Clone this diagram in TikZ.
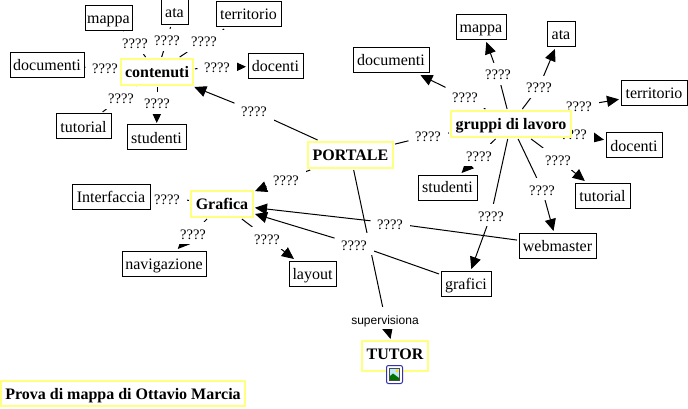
\documentclass[tikz,border=0pt]{standalone}
\usepackage{fontspec}
\setmainfont{Liberation Serif}
\newfontfamily\lblsans{Liberation Sans}
\usetikzlibrary{arrows.meta}
\definecolor{concepty}{HTML}{FFFF80}
\pgfdeclarelayer{edgelayer}
\pgfdeclarelayer{labellayer}
\pgfsetlayers{edgelayer,labellayer,main}
\tikzset{
  x=1pt,y=-1pt,
  base/.style={inner sep=0pt,outer sep=2pt,text height=14.5pt,text depth=3.5pt},
  plainbox/.style={base,draw=black,line width=1pt,fill=white,font=\fontsize{16}{18}\selectfont,minimum height=25pt},
  keybox/.style={base,draw=concepty,line width=1.2pt,fill=white,font=\fontsize{16}{18}\selectfont\bfseries,minimum height=26pt},
  qlabel/.style={inner sep=0pt,outer sep=0pt,fill=white,minimum width=39pt,minimum height=22pt,text height=12pt,text depth=0pt,font=\fontsize{14.5}{16}\selectfont},
  svlabel/.style={qlabel,font=\lblsans\fontsize{12}{14}\selectfont,minimum width=70pt},
  link/.style={line width=1pt,draw=black},
  arr/.style={link,-{Triangle[length=12pt,width=11pt]}}
}
\begin{document}
\begin{tikzpicture}
\useasboundingbox (0,0) rectangle (688,409);
\begin{pgfonlayer}{edgelayer}
\fill[white] (0,0) rectangle (688,409);
\end{pgfonlayer}
\begin{pgfonlayer}{labellayer}
\node[qlabel] (l1) at (135,43) {????};
\node[qlabel] (l2) at (167,40) {????};
\node[qlabel] (l3) at (204,41) {????};
\node[qlabel] (l4) at (105,68) {????};
\node[qlabel] (l5) at (217,67) {????};
\node[qlabel] (l6) at (121,98) {????};
\node[qlabel] (l7) at (157,103) {????};
\node[qlabel] (l8) at (254,111) {????};
\node[qlabel] (r1) at (465,97) {????};
\node[qlabel] (r2) at (498,74) {????};
\node[qlabel] (r3) at (539,87) {????};
\node[qlabel] (r4) at (579,106) {????};
\node[qlabel] (r5) at (574,134) {????};
\node[qlabel] (r6) at (479,155) {????};
\node[qlabel] (r7) at (558,159) {????};
\node[qlabel] (r8) at (542,189) {????};
\node[qlabel] (r9) at (491,215) {????};
\node[qlabel] (r10) at (428,136) {????};
\node[qlabel] (g1) at (167,198) {????};
\node[qlabel] (g2) at (193,233) {????};
\node[qlabel] (g3) at (267,238) {????};
\node[qlabel] (g4) at (286,179) {????};
\node[qlabel] (g5) at (390,223) {????};
\node[qlabel] (g6) at (354,244) {????};
\node[svlabel] (sv) at (385,318) {supervisiona};
\end{pgfonlayer}
% concept nodes
\node[keybox,minimum width=72pt] (cont) at (157,72) {contenuti};
\node[keybox,minimum width=85pt] (port) at (350.5,155) {PORTALE};
\node[keybox,minimum width=120pt] (grup) at (511,124) {gruppi di lavoro};
\node[keybox,minimum width=62pt] (graf) at (222,204) {Grafica};
\node[keybox,minimum width=66pt,minimum height=30pt,text depth=7.5pt] (tutor) at (395,356) {TUTOR};
\node[plainbox,minimum width=47pt] (mapL) at (108.5,18.5) {mappa};
\node[plainbox,minimum width=27pt] (ataL) at (174.5,12.5) {ata};
\node[plainbox,minimum width=65pt] (terL) at (248.5,14.5) {territorio};
\node[plainbox,minimum width=74pt] (docL) at (47,65.5) {documenti};
\node[plainbox,minimum width=55pt] (dceL) at (275.5,66.5) {docenti};
\node[plainbox,minimum width=55pt] (tutL) at (83.5,126.5) {tutorial};
\node[plainbox,minimum width=59pt] (stuL) at (156.5,137.5) {studenti};
\node[plainbox,minimum width=50pt] (mapR) at (481,27.5) {mappa};
\node[plainbox,minimum width=28pt] (ataR) at (561,34.5) {ata};
\node[plainbox,minimum width=76pt] (docR) at (391,60.5) {documenti};
\node[plainbox,minimum width=66pt] (terR) at (654,93.5) {territorio};
\node[plainbox,minimum width=56pt] (dceR) at (634,145.5) {docenti};
\node[plainbox,minimum width=59pt] (stuR) at (447.5,187.5) {studenti};
\node[plainbox,minimum width=55pt] (tutR) at (602.5,195.5) {tutorial};
\node[plainbox,minimum width=78pt] (intf) at (111,196.5) {Interfaccia};
\node[plainbox,minimum width=84pt] (navi) at (164,263.5) {navigazione};
\node[plainbox,minimum width=47pt] (layo) at (312.5,273.5) {layout};
\node[plainbox,minimum width=77pt] (webm) at (557.5,245.5) {webmaster};
\node[plainbox,minimum width=50pt] (grfc) at (466,283.5) {grafici};
\node[keybox,minimum width=244pt,minimum height=25pt] (prova) at (123,393.5) {Prova di mappa di Ottavio Marcia};
% connectors
\begin{pgfonlayer}{edgelayer}
\draw[link] (cont) -- (l1) -- (mapL);
\draw[link] (cont) -- (l2) -- (ataL);
\draw[link] (cont) -- (l3) -- (terL);
\draw[link] (cont) -- (l4) -- (docL);
\draw[link] (cont) -- (l5);
\draw[arr] (l5) -- (dceL);
\draw[link] (cont) -- (l6) -- (tutL);
\draw[link] (cont) -- (l7);
\draw[arr] (l7) -- (stuL);
\draw[link] (port) -- (l8);
\draw[arr] (l8) -- (cont);
\draw[link] (grup) -- (r1); \draw[arr] (r1) -- (docR);
\draw[link] (grup) -- (r2); \draw[arr] (r2) -- (mapR);
\draw[link] (grup) -- (r3); \draw[arr] (r3) -- (ataR);
\draw[link] (grup) -- (r4); \draw[arr] (r4) -- (terR);
\draw[link] (grup) -- (r5); \draw[arr] (r5) -- (dceR);
\draw[link] (grup) -- (r6); \draw[arr] (r6) -- (stuR);
\draw[link] (grup) -- (r7); \draw[arr] (r7) -- (tutR);
\draw[link] (grup) -- (r8); \draw[arr] (r8) -- (webm);
\draw[link] (grup) -- (r9); \draw[arr] (r9) -- (grfc);
\draw[link] (port) -- (r10) -- (grup);
\draw[link] (graf) -- (g1) -- (intf);
\draw[link] (graf) -- (g2); \draw[arr] (g2) -- (navi);
\draw[link] (graf) -- (g3); \draw[arr] (g3) -- (layo);
\draw[link] (port) -- (g4); \draw[arr] (g4) -- (graf);
\draw[link] (webm) -- (g5); \draw[arr] (g5) -- (graf);
\draw[link] (grfc) -- (g6); \draw[arr] (g6) -- (graf);
\draw[link] (port) -- (sv); \draw[arr] (sv) -- (tutor);
\end{pgfonlayer}
% image icon
\fill[white] (387,366) rectangle (402,383);
\fill[cyan!25] (390,369) rectangle (399,380);
\fill[green!45!black] (390,380) -- (390,376) -- (393,373.5) -- (399,378) -- (399,380) -- cycle;
\fill[yellow!80!orange] (397,371) circle (1.6);
\draw[blue!60!black!80,line width=1pt,rounded corners=2pt] (386.5,365.5) rectangle (402.5,383.5);
\draw[black!70,line width=.6pt] (389.5,368.5) rectangle (399.5,380.5);
\end{tikzpicture}
\end{document}
